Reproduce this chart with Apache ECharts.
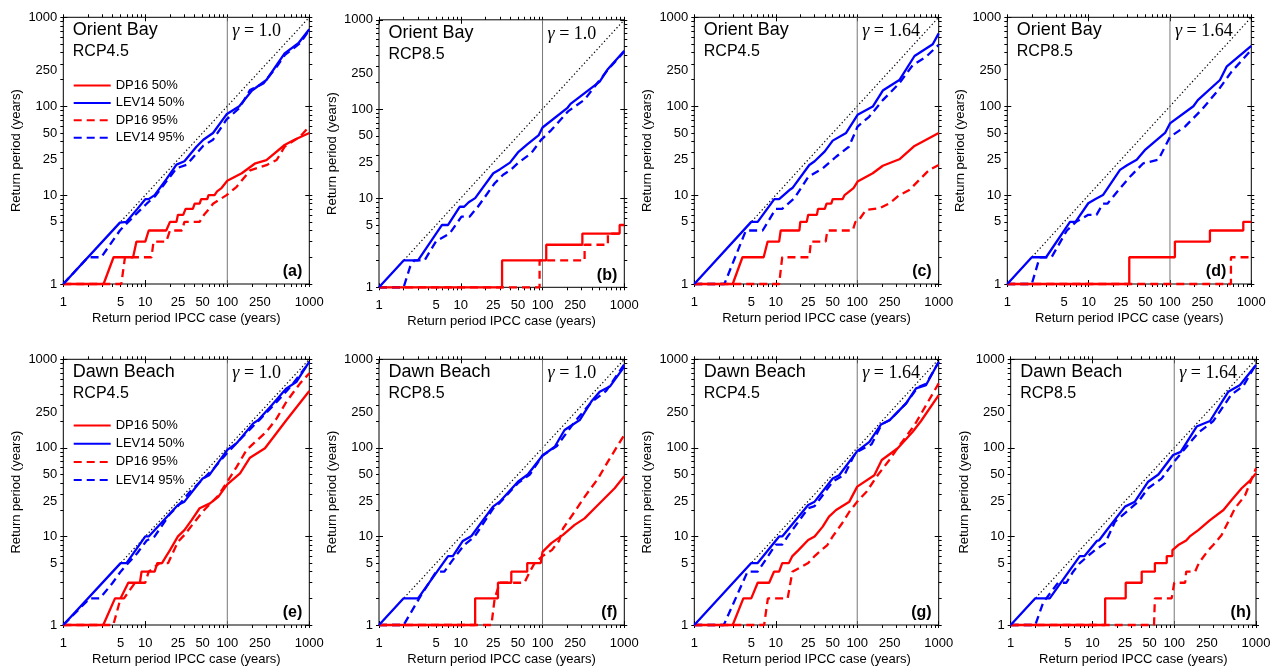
<!DOCTYPE html>
<html><head><meta charset="utf-8">
<script src="https://cdn.jsdelivr.net/npm/echarts@6/dist/echarts.min.js"></script>
<style>html,body{margin:0;padding:0;background:#fff}#chart{width:1277px;height:668px}</style>
</head><body><div id="chart"></div>
<script>
// ---------- tick definitions ----------
const tickLabels = [1, 5, 10, 25, 50, 100, 250, 1000];
const minorTicks = [1,2,3,4,5,6,7,8,9,10,20,30,40,50,60,70,80,90,100,200,300,400,500,600,700,800,900,1000];
const majorTicks = [1, 10, 100, 1000];
const refVerticalX = 100;
const diagonal = [[1, 1], [1000, 1000]];

// ---------- panel texts ----------
const siteNames = ['Orient Bay','Orient Bay','Orient Bay','Orient Bay','Dawn Beach','Dawn Beach','Dawn Beach','Dawn Beach'];
const scenarios = ['RCP4.5','RCP8.5','RCP4.5','RCP8.5','RCP4.5','RCP8.5','RCP4.5','RCP8.5'];
const gammas = ['1.0','1.0','1.64','1.64','1.0','1.0','1.64','1.64'];
const letters = ['(a)','(b)','(c)','(d)','(e)','(f)','(g)','(h)'];
const seriesNames = ['DP16 50%','LEV14 50%','DP16 95%','LEV14 95%'];
const xName = 'Return period IPCC case (years)';
const yName = 'Return period (years)';

// ---------- data: [IPCC return period, return period] ----------
const a_dp50 = [[1,1],[3.1,1],[4.1,2],[7.1,2],[7.8,3],[10,3],[11,4],[18,4],[20,5],[24,5],[25,6],[29,6],[31,7],[38,7],[40,8],[46,8],[48,9],[57,9],[59,10],[70,10],[75,11],[85,12],[100,14.5],[150,17.6],[220,22.8],[300,24.8],[500,36.6],[650,41.7],[1000,50]];
const a_lev50 = [[1,1],[4.9,4.9],[5.9,5],[8,7],[10,9],[11,9],[13,10],[18,15],[24,22],[30,24],[42,35],[51,42],[67,50],[98,81],[140,100],[200,150],[300,197],[500,393],[735,510],[1000,733]];
const a_dp95 = [[1,1],[5.1,1],[5.65,2],[11.9,2],[12.6,3],[18,3],[20,4],[28,4],[30,5],[46,5],[52,6],[60,7],[67,8],[98,10],[130,12.4],[190,19],[300,21.7],[400,24.8],[500,35],[770,45.5],[1000,59]];
const a_lev95 = [[1,1],[2,2],[2.9,2],[4.9,4],[6.2,5],[10.4,8],[13,9.6],[24,20],[32,22],[51,36],[67,42],[98,71],[140,95],[189,152],[275,180],[400,278],[505,378],[770,510],[1000,720]];

const b_dp50 = [[1,1],[32,1],[32,2],[111,2],[111,3],[307,3],[307,4],[877,4],[877,5],[1000,5]];
const b_lev50 = [[1,1],[2,2],[3,2],[5.9,5],[7,5],[9.7,8],[11,8],[12.5,9],[15,10],[25,19],[30,21],[40,25],[50,32.5],[65,40],[90,51],[100,62],[200,102],[220,114],[500,203],[620,275],[1000,450]];
const b_dp95 = [[1,1],[92,1],[92,2],[327,2],[327,3],[630,3],[630,4],[1000,4]];
const b_lev95 = [[1,1],[2,1],[2.4,1.7],[2.7,2],[3.6,2],[5,3.3],[7.3,4],[10.2,6.2],[12.8,6.2],[16.2,8],[26,14.7],[33,18.3],[41,20.8],[50,24.7],[73,32],[96,45],[128,58],[205,94],[327,127],[435,179],[630,276],[1000,441]];

const c_dp50 = [[1,1],[2.96,1],[3.9,2],[7.1,2],[7.95,3],[11,3],[11.5,4],[19.5,4],[20,5],[24,5],[25,6],[32,6],[33,7],[40,7],[42,8],[48,8],[50,9],[66,9],[70,10],[90,12],[101,14.2],[155,17.6],[206,21.4],[329,25.3],[505,35.7],[1000,50]];
const c_lev50 = [[1,1],[5,5],[6,5],[9.6,9],[11,9],[14.7,11.4],[16,12],[25.8,21.8],[30,24],[40,31],[50,41],[73,50],[101,80],[155,99],[206,150],[329,197],[505,367],[845,497],[1000,660]];
const c_dp95 = [[1,1],[11,1],[12,2],[25.8,2],[27,3],[41,3],[43,4],[88,4],[95,5],[101,5],[128,6.8],[187,7.1],[249,8.1],[329,10],[436,11.4],[577,14.8],[765,19.2],[1000,21.8]];
const c_lev95 = [[1,1],[2.34,1],[4.3,4],[6.9,4],[10,7],[12,7],[16.9,9.2],[25,16],[37.7,20],[55,27],[79,35],[101,59],[140,76],[206,117],[329,181],[480,290],[700,360],[1000,490]];

const d_dp50 = [[1,1],[31.6,1],[31.6,2],[115,2],[115,3],[310,3],[310,4],[797,4],[797,5],[1000,5]];
const d_lev50 = [[1,1],[2,2],[3,2],[5.9,5],[6.9,5],[9.9,8.1],[12,9],[15,10],[24.3,19.2],[30,21.8],[39,25],[49,32],[65,40],[87,50],[100,64],[194,100],[220,117],[412,197],[497,278],[1000,476]];
const d_dp95 = [[1,1],[562,1],[562,2],[1000,2]];
const d_lev95 = [[1,1],[2,1],[2.5,2],[3.5,2],[5.4,4],[7,5],[9.9,6],[12.5,6],[15,8],[17,8],[24.3,11.9],[32,16],[47,22.8],[72,25],[100,45],[153,59],[245,91],[393,152],[573,245],[1000,429]];

const e_dp50 = [[1,1],[3.07,1],[4.27,2],[5,2],[6.2,3],[8.6,3],[9,4],[13,4],[14,5],[16,5],[18,6],[20,7],[25,10],[30,11.8],[36.7,15.3],[46,20.8],[61.5,23.6],[77.6,28],[100,38.7],[143,51.6],[189,77.5],[288,99],[527,206],[1000,438]];
const e_lev50 = [[1,1],[5,5],[5.9,5],[10,10],[11,10],[25,22.6],[30,24.7],[50,45],[60,49],[100,95],[130,113],[207,189],[239,206],[350,305],[527,470],[700,559],[1000,940]];
const e_dp95 = [[1,1],[4.07,1],[5,2],[5.5,2],[7.5,3],[10,3],[11,4],[15,5],[19,5],[25,8.7],[30,10.4],[38.5,14],[50,19],[77.6,29],[100,41.5],[130,61],[172,95],[220,117],[300,152],[400,215],[527,333],[772,535],[1000,695]];
const e_lev95 = [[1,1],[2.1,2],[2.8,2],[4,3],[5,4],[6.2,5],[8,6.5],[10.4,9],[13,10],[20,18],[25,22],[35,32],[50,44],[70,60],[100,88],[150,130],[250,210],[400,330],[600,500],[1000,920]];

const f_dp50 = [[1,1],[15,1],[15,2],[28.5,2],[28.5,3],[41.5,3],[41.5,4],[65,4],[65,5],[95,5],[100,6.7],[128,8.4],[178,10.4],[247,13.5],[327,16],[434,20.8],[575,27],[762,35],[1000,48]];
const f_lev50 = [[1,1],[2,2],[3,2],[7,6],[8,6],[10.6,8.9],[13.5,10.1],[24.8,21.7],[30,24.7],[50,41.5],[66,50],[100,82],[141,103],[186,159],[285,206],[395,333],[500,431],[665,492],[1000,826]];
const f_dp95 = [[1,1],[23.7,1],[26,2],[30,3],[60,3],[70,4],[80,5],[100,6],[130,7],[160,9],[178,12.3],[247,19],[327,28],[477,45],[630,70],[1000,140]];
const f_lev95 = [[1,1],[2,1],[3.3,2.2],[5,4],[6.3,4],[7.7,5.2],[11,8],[14.8,10],[25,20.8],[30,24],[50,40],[70,50],[100,82],[150,105],[250,200],[400,330],[600,440],[1000,880]];

const g_dp50 = [[1,1],[2.96,1],[4,2],[5,2],[6,3],[8.3,3],[9.5,4],[11,4],[12,5],[14.5,5],[16,6],[19,7],[25,9.1],[30,10],[37.7,12.9],[45,16.7],[55,19.9],[80,24.7],[100,36.5],[162,49],[200,73],[314,99],[480,152],[607,201],[1000,395]];
const g_lev50 = [[1,1],[5,5],[6,5],[11,10],[12,10],[25,22.6],[30,24.7],[50,45],[60,49],[100,92],[141,117],[196,184],[250,206],[398,318],[527,470],[700,512],[1000,940]];
const g_dp95 = [[1,1],[7.2,1],[8,2],[14,2],[16,4],[25,5],[30,6],[43,8],[50,10],[65,14],[80,19],[100,24.7],[130,32],[178,49],[248,73],[314,100],[505,181],[1000,535]];
const g_lev95 = [[1,1],[2.3,1],[4.5,4],[6,4],[10,8.1],[12,8.1],[14,10],[25,20.8],[30,22],[50,41.5],[70,50],[90,80],[100,90],[150,110],[200,185],[250,205],[400,320],[550,480],[700,530],[1000,930]];

const h_dp50 = [[1,1],[14.3,1],[14.3,2],[25.5,2],[25.5,3],[40,3],[40,4],[58,4],[58,5],[81,5],[81,6],[95,6],[95,7],[112,8],[140,9],[155,10],[197,11.8],[274,15.3],[400,19.9],[504,25.8],[668,35],[850,43],[1000,51.6]];
const h_lev50 = [[1,1],[2,2],[3,2],[7,6],[8,6],[11.3,8.9],[12,9],[15,11.8],[25,21.7],[33,24.7],[48,41.5],[64,50],[97,83],[120,90],[188,174],[274,201],[459,431],[638,512],[1000,862]];
const h_dp95 = [[1,1],[56.6,1],[58,2],[93,2],[100,3],[136,3],[140,4],[180,4],[200,5],[261,7],[300,8],[380,10.4],[554,20.8],[734,29],[1000,59]];
const h_lev95 = [[1,1],[2,1],[2.5,1.8],[3.8,3],[4.8,3],[5.8,4],[7,5],[10.7,7],[14.3,8.4],[18.9,14.7],[25,18.3],[36.4,24.7],[48,35],[70,45],[100,70],[150,110],[200,150],[300,200],[500,400],[700,500],[1000,880]];

const panelSeries = [
  [a_dp50, a_lev50, a_dp95, a_lev95],
  [b_dp50, b_lev50, b_dp95, b_lev95],
  [c_dp50, c_lev50, c_dp95, c_lev95],
  [d_dp50, d_lev50, d_dp95, d_lev95],
  [e_dp50, e_lev50, e_dp95, e_lev95],
  [f_dp50, f_lev50, f_dp95, f_lev95],
  [g_dp50, g_lev50, g_dp95, g_lev95],
  [h_dp50, h_lev50, h_dp95, h_lev95]
];

// ---------- layout (pixels) ----------
const gridLefts = [63.3, 379, 694.3, 1007.3, 63.3, 379, 694.3, 1010.7];
const gridWidths = [246, 245.3, 244.4, 244, 246, 245.3, 244.4, 245.3];
const gridTops = [17.3, 19.8, 17.3, 17.3, 359.3, 359.3, 359.3, 359.3];
const gridHeights = [266.7, 267.5, 266.7, 266.7, 265.7, 265.7, 265.7, 265.7];
const letterRightInset = [7, 7, 7, 25, 7, 7, 7, 5];

const FONT = "'Liberation Sans', Arial, Helvetica, sans-serif";
const SERIF = "'Liberation Serif', 'Times New Roman', serif";
const L = Math.log10;
const toLog = pts => pts.map(p => [L(p[0]), L(p[1])]);
const seriesStyles = [
  {color: '#ff0000', type: 'solid'},
  {color: '#0000ff', type: 'solid'},
  {color: '#ff0000', type: [8, 5]},
  {color: '#0000ff', type: [8, 5]}
];

function minorAxis(gi, pos, isX, withLabels) {
  const o = {
    gridIndex: gi, type: 'value', position: pos, min: 0, max: 3,
    axisLine: {show: false, onZero: false},
    axisTick: {show: true, inside: false, length: 3, customValues: minorTicks.map(L), lineStyle: {color: '#000', width: 1}},
    axisLabel: {show: withLabels, customValues: tickLabels.map(L),
      formatter: v => String(Math.round(Math.pow(10, v))),
      margin: isX ? 12 : 6, fontSize: 13, color: '#000', fontFamily: FONT},
    splitLine: {show: false}, silent: true
  };
  if (withLabels) {
    o.name = isX ? xName : yName;
    o.nameLocation = 'middle';
    o.nameGap = isX ? 27.5 : 40;
    o.nameTextStyle = {fontSize: 13, color: '#000', fontFamily: FONT};
  }
  return o;
}
function majorAxis(gi, pos) {
  return {
    gridIndex: gi, type: 'value', position: pos, min: 0, max: 3,
    axisLine: {show: false, onZero: false},
    axisTick: {show: true, inside: true, length: 4, customValues: majorTicks.map(L), lineStyle: {color: '#000', width: 1}},
    axisLabel: {show: false}, splitLine: {show: false}, silent: true
  };
}

const grids = [], xAxes = [], yAxes = [], series = [], elements = [];
for (let p = 0; p < 8; p++) {
  const left = gridLefts[p], top = gridTops[p], w = gridWidths[p], h = gridHeights[p];
  grids.push({left: left, top: top, width: w, height: h, show: true, borderColor: '#000', borderWidth: 1, backgroundColor: 'rgba(0,0,0,0)'});
  const xi = xAxes.length, yi = yAxes.length;
  xAxes.push(minorAxis(p, 'bottom', true, true));
  xAxes.push(majorAxis(p, 'bottom'));
  xAxes.push(minorAxis(p, 'top', true, false));
  xAxes.push(majorAxis(p, 'top'));
  yAxes.push(minorAxis(p, 'left', false, true));
  yAxes.push(majorAxis(p, 'left'));
  yAxes.push(minorAxis(p, 'right', false, false));
  yAxes.push(majorAxis(p, 'right'));

  series.push({type: 'line', name: 'diag', xAxisIndex: xi, yAxisIndex: yi, data: toLog(diagonal),
    symbol: 'none', silent: true, lineStyle: {color: '#000', width: 1.2, type: [1.3, 2.4]}, z: 1});
  series.push({type: 'line', name: 'ref100', xAxisIndex: xi, yAxisIndex: yi, data: toLog([[refVerticalX, 1], [refVerticalX, 1000]]),
    symbol: 'none', silent: true, lineStyle: {color: '#777', width: 1}, z: 1});
  const order = [2, 3, 0, 1];
  order.forEach(k => {
    series.push({type: 'line', name: seriesNames[k], xAxisIndex: xi, yAxisIndex: yi,
      data: toLog(panelSeries[p][k]), symbol: 'none', silent: true, clip: false,
      lineStyle: {color: seriesStyles[k].color, width: 2.3, type: seriesStyles[k].type},
      itemStyle: {color: seriesStyles[k].color}, z: 2});
  });

  elements.push({type: 'text', x: left + 9.5, y: top + 13, z: 10,
    style: {text: siteNames[p], fontSize: 18, fontFamily: FONT, fill: '#000', verticalAlign: 'middle', align: 'left'}});
  elements.push({type: 'text', x: left + 9.5, y: top + 34.5, z: 10,
    style: {text: scenarios[p], fontSize: 16, fontFamily: FONT, fill: '#000', verticalAlign: 'middle', align: 'left'}});
  elements.push({type: 'text', x: left + w * 2 / 3 + 5, y: top + 14, z: 10,
    style: {text: '{g|γ} = ' + gammas[p], fontSize: 18, fontFamily: SERIF, fill: '#000', verticalAlign: 'middle', align: 'left',
      rich: {g: {fontStyle: 'italic', fontSize: 18, fontFamily: SERIF, fill: '#000'}}}});
  elements.push({type: 'text', x: left + w - letterRightInset[p], y: top + h - 12, z: 10,
    style: {text: letters[p], fontSize: 16, fontWeight: 'bold', fontFamily: FONT, fill: '#000', verticalAlign: 'middle', align: 'right'}});
}

const legendBase = {
  data: seriesNames, orient: 'vertical', padding: 0, itemWidth: 37, itemHeight: 12,
  selectedMode: false, textStyle: {fontSize: 13, color: '#000', fontFamily: FONT},
  itemStyle: {opacity: 0}
};

const chart = echarts.init(document.getElementById('chart'), null, {renderer: 'canvas'});
chart.setOption({
  animation: false,
  backgroundColor: '#fff',
  grid: grids,
  xAxis: xAxes,
  yAxis: yAxes,
  series: series,
  legend: [
    Object.assign({}, legendBase, {left: 72.7, top: 79, itemGap: 4.4}),
    Object.assign({}, legendBase, {left: 72.7, top: 419, itemGap: 5.2})
  ],
  graphic: {elements: elements}
});
</script>
</body></html>
